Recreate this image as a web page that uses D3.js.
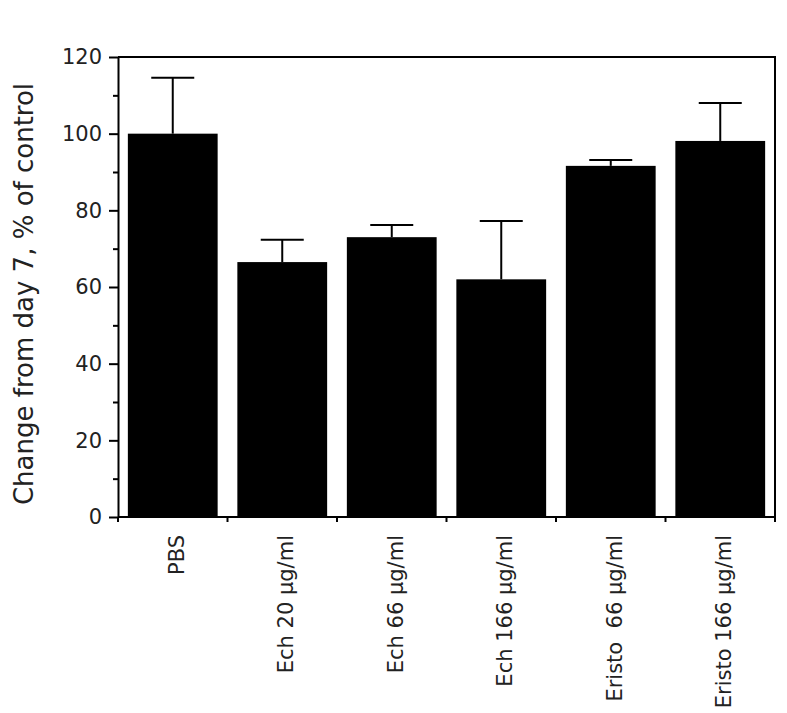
<!DOCTYPE html>
<html>
<head>
<meta charset="utf-8">
<script src="https://cdn.jsdelivr.net/npm/d3@7"></script>
<style>
  body { margin: 0; background: #fff; }
  text { font-family: "DejaVu Sans", sans-serif; fill: #222; }
</style>
</head>
<body>
<svg id="chart"></svg>
<script>
// values
const groups = ["PBS", "Ech 20 \u03bcg/ml", "Ech 66 \u03bcg/ml", "Ech 166 \u03bcg/ml", "Eristo  66 \u03bcg/ml", "Eristo 166 \u03bcg/ml"];
const means = [100, 66.5, 73, 62, 91.6, 98.1];
const errTop = [114.6, 72.3, 76.2, 77.2, 93.1, 108];
const yTicks = [0, 20, 40, 60, 80, 100, 120];
const yMinor = [10, 30, 50, 70, 90, 110];

const config = {
  width: 787, height: 713,
  margin: { top: 57, right: 12, bottom: 196, left: 118 }
};

const data = groups.map((g, i) => ({ group: g, mean: means[i], err: errTop[i] }));

const svg = d3.select('#chart')
  .attr('width', config.width)
  .attr('height', config.height);

const w = config.width - config.margin.left - config.margin.right;
const h = config.height - config.margin.top - config.margin.bottom;

const chart = svg.append('g')
  .attr('transform', `translate(${config.margin.left},${config.margin.top})`);

const xScale = d3.scaleBand()
  .domain(groups)
  .range([0, w])
  .paddingInner(0.18)
  .paddingOuter(0.09);

// full-width bands, used for the tick marks between groups
const xEdge = d3.scaleBand().domain(groups).range([0, w]);

const yScale = d3.scaleLinear()
  .domain([0, 120])
  .range([h, 0]);

// bars
chart.selectAll('.bar')
  .data(data)
  .join('rect')
  .attr('class', 'bar')
  .attr('x', d => xScale(d.group))
  .attr('y', d => yScale(d.mean))
  .attr('width', xScale.bandwidth())
  .attr('height', d => yScale(0) - yScale(d.mean))
  .attr('fill', '#000');

// error bars (upper only)
const cap = 43;
const eb = chart.selectAll('.err')
  .data(data)
  .join('g')
  .attr('class', 'err')
  .attr('stroke', '#000')
  .attr('stroke-width', 2);

eb.append('line')
  .attr('x1', d => xScale(d.group) + xScale.bandwidth() / 2)
  .attr('x2', d => xScale(d.group) + xScale.bandwidth() / 2)
  .attr('y1', d => yScale(d.mean))
  .attr('y2', d => yScale(d.err));

eb.append('line')
  .attr('x1', d => xScale(d.group) + xScale.bandwidth() / 2 - cap / 2)
  .attr('x2', d => xScale(d.group) + xScale.bandwidth() / 2 + cap / 2)
  .attr('y1', d => yScale(d.err))
  .attr('y2', d => yScale(d.err));

// frame: top and right
chart.append('path')
  .attr('d', `M0,0H${w}V${h}`)
  .attr('fill', 'none')
  .attr('stroke', '#000')
  .attr('stroke-width', 2);

// y axis
const yAxis = d3.axisLeft(yScale)
  .tickValues(yTicks)
  .tickSize(9)
  .tickPadding(7)
  .tickSizeOuter(0);

const yAxisG = chart.append('g').attr('class', 'axis y-axis').call(yAxis);
yAxisG.selectAll('path, line').attr('stroke', '#000').attr('stroke-width', 2);
yAxisG.selectAll('text')
  .style('font-size', '21px')
  .style('font-family', '"DejaVu Sans", sans-serif')
  .attr('fill', '#222');

const yMinorG = chart.append('g').call(
  d3.axisLeft(yScale).tickValues(yMinor).tickSize(5).tickFormat('').tickSizeOuter(0)
);
yMinorG.select('path').remove();
yMinorG.selectAll('line').attr('stroke', '#000').attr('stroke-width', 2);

// x axis line and boundary ticks
const edges = groups.map(g => xEdge(g)).concat([w]);
const xAxisG = chart.append('g')
  .attr('class', 'axis x-axis')
  .attr('transform', `translate(0,${h})`);

xAxisG.append('line')
  .attr('x1', 0).attr('x2', w)
  .attr('stroke', '#000').attr('stroke-width', 2);

xAxisG.selectAll('.edge')
  .data(edges)
  .join('line')
  .attr('class', 'edge')
  .attr('x1', d => d).attr('x2', d => d)
  .attr('y1', 0).attr('y2', 5)
  .attr('stroke', '#000').attr('stroke-width', 2);

// rotated group labels
xAxisG.selectAll('.xlab')
  .data(groups)
  .join('text')
  .attr('class', 'xlab')
  .attr('transform', d => `translate(${xScale(d) + xScale.bandwidth() / 2 + 11},18) rotate(-90)`)
  .attr('text-anchor', 'end')
  .style('font-size', '21px')
  .style('white-space', 'pre')
  .text(d => d);

// y label
svg.append('text')
  .attr('transform', `translate(33,${config.margin.top + 237}) rotate(-90)`)
  .attr('text-anchor', 'middle')
  .style('font-size', '26px')
  .text('Change from day 7, % of control');
</script>
</body>
</html>
